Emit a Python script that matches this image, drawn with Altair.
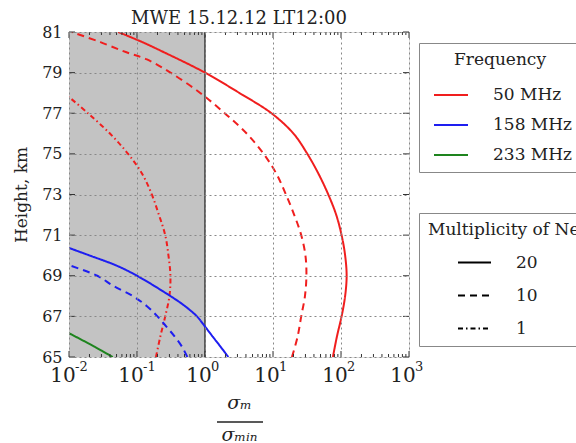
import altair as alt
import pandas as pd

# ---- data ----
freqs = ["50 MHz", "158 MHz", "233 MHz"]
mults = ["20", "10", "1"]

h_50_20 = [65, 66, 67, 68, 69, 70, 71, 72, 73, 74, 75, 76, 77, 78, 79, 80, 80.5, 81]
v_50_20 = [76, 87, 102, 115, 121, 115, 102, 85, 65, 47, 32, 20, 9.5, 3.2, 1.0, 0.25, 0.12, 0.053]

h_50_10 = [65, 66, 67, 68, 69, 70, 71, 72, 73, 74, 75, 76, 77, 78, 79, 79.65, 80, 80.5, 81]
v_50_10 = [19, 23, 26, 29.5, 31, 30, 26, 20.5, 15.5, 11.3, 7.3, 4.1, 1.95, 0.85, 0.31, 0.14, 0.07, 0.029, 0.011]

h_50_1 = [65, 66, 67, 68, 69, 70, 71, 72, 73, 74, 75, 76, 77, 77.8]
v_50_1 = [0.19, 0.22, 0.26, 0.30, 0.31, 0.29, 0.26, 0.21, 0.165, 0.12, 0.074, 0.04, 0.019, 0.01]

h_158_20 = [65, 65.5, 66, 66.5, 67, 67.5, 68, 69, 69.5, 70, 70.37]
v_158_20 = [2.2, 1.7, 1.3, 1.0, 0.76, 0.51, 0.31, 0.1, 0.05, 0.02, 0.01]

h_158_10 = [65, 65.5, 66, 66.5, 67, 67.5, 68, 68.5, 69, 69.52]
v_158_10 = [0.55, 0.46, 0.36, 0.27, 0.2, 0.14, 0.087, 0.045, 0.026, 0.01]

h_233_20 = [65, 65.5, 66.17]
v_233_20 = [0.044, 0.024, 0.01]

x_major = [0.01, 0.1, 1, 10, 100, 1000]
x_exponents = ["-2", "-1", "0", "1", "2", "3"]
x_minor = [m * 10.0 ** k for k in range(-2, 3) for m in range(2, 10)]
y_ticks = [65, 67, 69, 71, 73, 75, 77, 79, 81]
shade_from, shade_to = 0.01, 1
threshold = [1]

series = [
    ("50 MHz", "20", h_50_20, v_50_20),
    ("50 MHz", "10", h_50_10, v_50_10),
    ("50 MHz", "1", h_50_1, v_50_1),
    ("158 MHz", "20", h_158_20, v_158_20),
    ("158 MHz", "10", h_158_10, v_158_10),
    ("233 MHz", "20", h_233_20, v_233_20),
]
rows = []
for f, m, hs, vs in series:
    for h, v in zip(hs, vs):
        rows.append({"freq": f, "mult": m, "h": h, "v": v})
df = pd.DataFrame(rows)

FONT = "DejaVu Serif"
W, H = 340, 325

xscale = alt.Scale(type="log", domain=[0.01, 1000])
yscale = alt.Scale(domain=[65, 81], nice=False, zero=False)

xaxis = alt.Axis(
    values=x_major, grid=True, gridDash=[2, 3], gridColor="#888", gridWidth=1,
    ticks=False, tickSize=0, domain=False, labels=False, zindex=1,
    title=["σₘ", "σₘᵢₙ"], titleFont=FONT, titleFontSize=19, titleFontStyle="italic",
    titleFontWeight="normal", titleColor="#222", titleLineHeight=32, titlePadding=36,
)
yaxis = alt.Axis(
    values=y_ticks, grid=True, gridDash=[2, 3], gridColor="#888", gridWidth=1,
    ticks=False, tickSize=0, domain=False, labelFontSize=16, labelFont=FONT,
    labelColor="#222", labelPadding=7, zindex=1,
    title="Height, km", titleFont=FONT, titleFontSize=17, titleFontWeight="normal",
    titleColor="#222", titlePadding=11,
)

X = alt.X("v:Q", scale=xscale, axis=xaxis)
Y = alt.Y("h:Q", scale=yscale, axis=yaxis)

shade = alt.Chart(pd.DataFrame({"v": [shade_from], "v2": [shade_to], "h": [65], "h2": [81]})).mark_rect(
    color="#c3c3c3"
).encode(x=X, x2="v2:Q", y=Y, y2="h2:Q")

vline = alt.Chart(pd.DataFrame({"v": threshold})).mark_rule(color="#222", strokeWidth=1.3).encode(
    x=X, y=alt.value(0), y2=alt.value(H)
)

lines = alt.Chart(df).mark_line(strokeWidth=2, clip=True, interpolate="catmull-rom").encode(
    x=X,
    y=Y,
    order=alt.Order("h:Q"),
    color=alt.Color(
        "freq:N",
        scale=alt.Scale(domain=freqs, range=["#f01e1e", "#1e1ef0", "#1e841e"]),
        legend=alt.Legend(
            title="Frequency", orient="none", legendX=350, legendY=11,
            symbolType="stroke", symbolSize=1156, symbolStrokeWidth=2,
            labelOffset=24, padding=9, symbolOffset=5, titleAnchor="middle",
            strokeColor="#888", fillColor="white", labelFontSize=17, titleFontSize=17,
            labelFont=FONT, titleFont=FONT, titleFontWeight="normal",
            titleColor="#222", labelColor="#222", rowPadding=4, titlePadding=8,
            labelExpr="datum.label + '\u00a0\u00a0\u00a0\u00a0'",
        ),
    ),
    strokeDash=alt.StrokeDash(
        "mult:N",
        scale=alt.Scale(domain=mults, range=[[1, 0], [7, 5], [5, 3, 1.5, 3]]),
        legend=alt.Legend(
            title="Multiplicity of Ne", orient="none", legendX=350, legendY=181,
            symbolType="stroke", symbolSize=1089, symbolStrokeWidth=2,
            symbolStrokeColor="black", labelOffset=24, padding=9, symbolOffset=29,
            titleAnchor="start", strokeColor="#888", fillColor="white",
            labelFontSize=17, titleFontSize=17, labelFont=FONT, titleFont=FONT,
            titleFontWeight="normal", titleColor="#222", labelColor="#222",
            rowPadding=7, titlePadding=6, titleLimit=400,
        ),
    ),
)

# tick labels 10^k (base and exponent), placed through the x scale
lab_df = pd.DataFrame({"v": x_major, "e": x_exponents})
lab_base = alt.Chart(lab_df).mark_text(
    text="10", font=FONT, fontSize=20, color="#222", baseline="middle", align="center", dx=-6
).encode(x=X, y=alt.value(H + 19))
lab_exp = alt.Chart(lab_df).mark_text(
    font=FONT, fontSize=13, color="#222", baseline="middle", align="left", dx=6
).encode(x=X, y=alt.value(H + 10), text="e:N")

# inward tick marks (drawn through the scales)
xt_major_b = alt.Chart(pd.DataFrame({"v": x_major})).mark_rule(color="#333").encode(
    x=X, y=alt.value(H), y2=alt.value(H - 6))
xt_major_t = alt.Chart(pd.DataFrame({"v": x_major})).mark_rule(color="#333").encode(
    x=X, y=alt.value(0), y2=alt.value(6))
xt_minor_b = alt.Chart(pd.DataFrame({"v": x_minor})).mark_rule(color="#333").encode(
    x=X, y=alt.value(H), y2=alt.value(H - 3))
xt_minor_t = alt.Chart(pd.DataFrame({"v": x_minor})).mark_rule(color="#333").encode(
    x=X, y=alt.value(0), y2=alt.value(3))
yt_l = alt.Chart(pd.DataFrame({"h": y_ticks})).mark_rule(color="#333").encode(
    y=Y, x=alt.value(0), x2=alt.value(6))
yt_r = alt.Chart(pd.DataFrame({"h": y_ticks})).mark_rule(color="#333").encode(
    y=Y, x=alt.value(W), x2=alt.value(W - 6))

frac_bar = alt.Chart(pd.DataFrame({"a": [0]})).mark_rule(color="#222", strokeWidth=1.5).encode(
    x=alt.value(148), x2=alt.value(194), y=alt.value(390))

chart = alt.layer(
    shade, vline, lines, lab_base, lab_exp, xt_major_b, xt_major_t, xt_minor_b, xt_minor_t,
    yt_l, yt_r, frac_bar
).properties(
    width=W, height=H,
    title=alt.TitleParams("MWE 15.12.12 LT12:00", font=FONT, fontSize=18, fontWeight="normal",
                          color="#222", anchor="middle", offset=-4),
    autosize=alt.AutoSizeParams(type="none"),
    padding={"left": 69, "top": 32, "right": 576 - 69 - W, "bottom": 443 - 32 - H},
).configure_view(stroke="#444", strokeWidth=1.5).configure(background="white")

chart.save("out.html", embed_options={"renderer": "svg", "actions": False})
